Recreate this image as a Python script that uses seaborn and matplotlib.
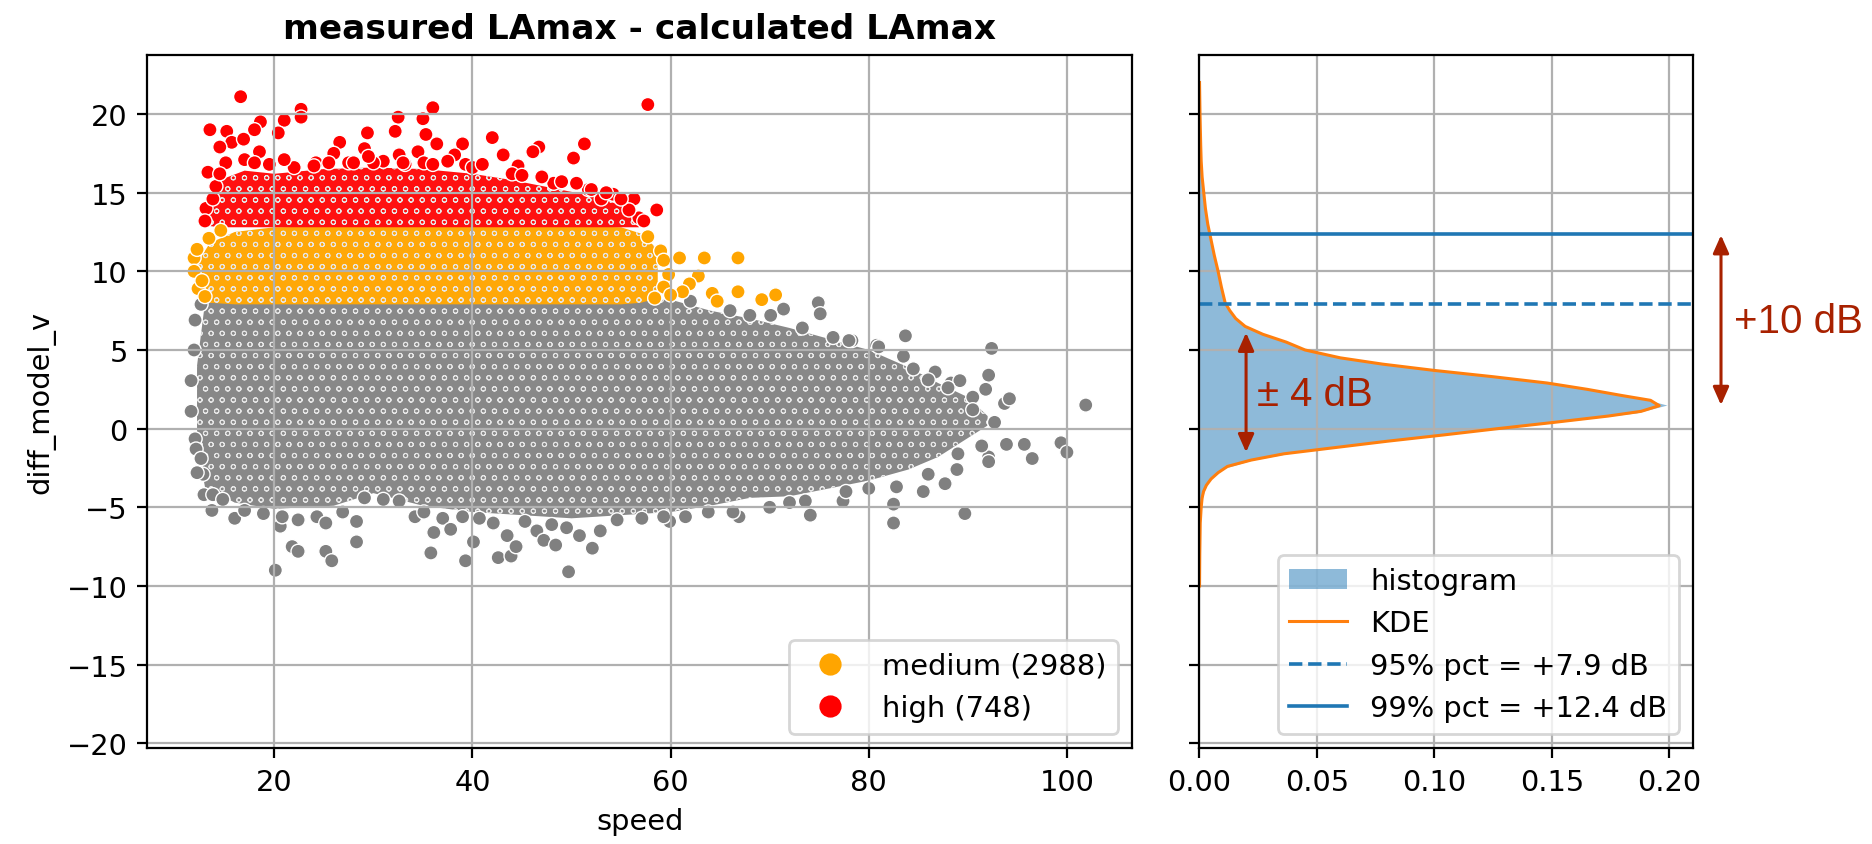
import matplotlib
matplotlib.use("Agg")
import matplotlib.pyplot as plt
import matplotlib.transforms as mtransforms
from matplotlib.lines import Line2D
from matplotlib.patches import Patch
import pandas as pd
import seaborn as sns

# ---------------- data ----------------
# dense cores of the point cloud (speed knots, lower / upper diff)
gray_env_speed = [12.2, 13.0, 16, 20, 26, 30, 35, 40, 45, 50, 55, 60, 64, 68, 72, 76, 80, 84, 87, 90, 92]
gray_env_top = [4.0, 8.0, 8.1, 8.1, 8.1, 8.1, 8.1, 8.1, 8.1, 8.1, 8.1, 8.2, 7.5, 7.0, 6.4, 5.7, 5.0, 3.9, 2.9, 2.0, 0.8]
gray_env_bottom = [-1.0, -3.7, -4.7, -5.1, -4.9, -4.1, -4.9, -5.3, -5.5, -5.7, -5.5, -5.3, -4.9, -4.4, -4.3, -3.8, -3.3, -2.6, -1.8, -0.6, 0.2]

orange_env_speed = [12.3, 13.5, 16, 20, 30, 40, 50, 55, 57, 58.7]
orange_env_top = [10.6, 11.8, 12.5, 12.8, 12.9, 12.9, 12.9, 12.8, 12.4, 11.4]
orange_env_bottom = [8.9, 8.0, 7.9, 7.9, 7.9, 7.9, 7.9, 7.9, 8.0, 8.3]

red_env_speed = [13.2, 14.5, 17, 20, 25, 30, 35, 40, 44, 48, 52, 55, 56.8]
red_env_top = [14.2, 15.8, 16.4, 16.2, 16.5, 16.6, 16.5, 16.2, 15.8, 15.3, 14.8, 14.2, 13.2]
red_env_bottom = [12.9, 12.8, 12.8, 12.8, 12.8, 12.8, 12.8, 12.8, 12.8, 12.8, 12.8, 12.8, 12.8]

# individual points at the edges of the cloud (speed, diff_model_v)
red_points = [
    (16.6, 21.1), (57.7, 20.6), (22.7, 20.3), (22.7, 19.8), (36.0, 20.4), (32.5, 19.8),
    (35.0, 19.7), (13.5, 19.0), (15.2, 18.9), (18.6, 19.5), (21.0, 19.6), (18.0, 19.0),
    (32.2, 18.9), (29.4, 18.8), (35.3, 18.7), (42.0, 18.5), (15.7, 18.2), (16.9, 18.4),
    (20.4, 18.8), (26.6, 18.2), (36.4, 18.1), (39.0, 18.1), (51.3, 18.1), (46.7, 17.9),
    (29.1, 17.8), (34.5, 17.6), (14.5, 17.9), (18.5, 17.6), (26.0, 17.5), (38.2, 17.4),
    (43.1, 17.4), (46.1, 17.6), (50.2, 17.2), (32.6, 17.4), (24.2, 16.9), (44.6, 16.7),
    (13.3, 16.3), (15.1, 16.9), (17.0, 17.1), (27.5, 16.9), (35.1, 16.9), (33.2, 16.8),
    (39.3, 16.8), (22.0, 16.6), (44.0, 16.2), (54.2, 14.9), (56.3, 14.6), (58.6, 13.9),
    (13.1, 14.0), (56.8, 13.4), (48.2, 15.6), (51.7, 15.2), (53.0, 14.6), (55.8, 13.9),
    (13.8, 14.6), (13.0, 13.2), (14.1, 15.4), (14.5, 16.2),
    (19.5, 16.8), (24.0, 16.7), (28.0, 16.9), (31.0, 17.0), (36.0, 16.8), (40.0, 16.6),
    (45.0, 16.1), (49.0, 15.7), (52.0, 15.2), (55.0, 14.6), (57.3, 13.2), (30.0, 16.9),
    (18.0, 16.9), (21.0, 17.1), (25.5, 16.9), (29.5, 17.3), (33.0, 16.9), (37.5, 17.0),
    (41.0, 16.8), (47.0, 16.0), (50.5, 15.6), (53.5, 15.0),
]
orange_points = [
    (11.9, 10.85), (12.2, 11.4), (12.3, 8.9), (11.9, 10.0), (12.7, 9.4), (13.0, 8.4),
    (13.4, 12.1), (14.6, 12.6), (59.0, 11.3), (57.7, 12.2), (59.3, 10.7), (59.8, 9.8),
    (59.3, 9.0), (60.9, 10.85), (63.4, 10.85), (66.8, 10.85), (62.8, 9.7), (61.9, 9.2),
    (61.2, 8.7), (64.2, 8.6), (64.7, 8.1), (66.8, 8.7), (69.2, 8.2), (70.6, 8.5),
    (58.4, 8.3), (60.0, 8.5),
]
gray_points = [
    (74.9, 8.0), (75.1, 7.3), (71.4, 7.6), (70.1, 7.2), (73.3, 6.4), (76.4, 5.8),
    (78.3, 5.6), (80.8, 5.3), (83.7, 5.9), (83.5, 4.6), (84.5, 3.8), (86.7, 3.6),
    (88.3, 2.9), (89.2, 3.05), (92.1, 3.4), (92.4, 5.1), (90.5, 2.0), (91.8, 2.5),
    (93.7, 1.6), (94.2, 1.9), (92.7, 0.4), (101.9, 1.5), (99.4, -0.9),
    (100.0, -1.5), (96.5, -1.9), (95.7, -1.0), (93.9, -1.0), (92.1, -1.8), (92.1, -2.1),
    (91.4, -1.1), (89.0, -1.6), (88.9, -2.6), (87.7, -3.5), (85.5, -4.0), (82.8, -3.7),
    (82.5, -4.8), (82.5, -6.0), (89.7, -5.4), (77.4, -4.6), (77.7, -4.0), (74.1, -5.5),
    (73.6, -4.6), (72.0, -4.7), (66.9, -5.6), (66.3, -5.3), (63.8, -5.3), (59.9, -5.9),
    (59.3, -5.6), (12.6, 7.9), (12.0, 6.9), (11.6, 3.05), (11.6, 1.1), (12.0, -0.65),
    (12.1, -1.3), (12.6, -1.9), (12.8, -2.9), (12.9, -4.2), (13.8, -4.2), (14.8, -4.5),
    (13.7, -5.2), (16.0, -5.7), (17.0, -5.2), (18.9, -5.4), (20.6, -6.2), (20.8, -5.6),
    (22.4, -5.8), (24.3, -5.6), (25.2, -6.0), (26.9, -5.3), (28.3, -5.9), (29.1, -4.4),
    (31.0, -4.5), (32.6, -4.6), (34.2, -5.6), (35.1, -5.3), (37.0, -5.7), (37.8, -6.4),
    (39.0, -5.6), (40.7, -5.7), (42.1, -6.0), (43.5, -6.8), (45.3, -5.9), (46.5, -6.5),
    (48.0, -6.1), (49.5, -6.3), (50.8, -6.8), (52.9, -6.5), (54.6, -5.8), (57.1, -5.7),
    (20.1, -9.0), (21.8, -7.5), (22.4, -7.8), (25.2, -7.8), (25.8, -8.4), (28.3, -7.2),
    (35.8, -7.9), (36.1, -6.6), (39.3, -8.4), (40.1, -7.2), (42.6, -8.2), (43.9, -8.1),
    (44.4, -7.5), (47.2, -7.1), (48.4, -7.4), (49.7, -9.1), (52.1, -7.6),
    (62.0, 8.1), (66.0, 7.5), (68.0, 7.2), (78.0, 5.6), (81.0, 5.2), (86.0, 3.1),
    (88.0, 2.6), (90.5, 1.2), (86.0, -2.9), (80.0, -3.8), (70.0, -5.0), (61.5, -5.6),
    (11.9, 5.0), (12.2, -2.8),
]
level_names = ["low", "medium", "high"]
level_counts = {"medium": 2988, "high": 748}
level_colors = {"low": "grey", "medium": "orange", "high": "red"}
core_colors = {"low": "#888888", "medium": "#ffa808", "high": "#ff1010"}

# distribution of diff_model_v (right panel): fine-binned histogram, bin centres
hist_y = [-6.0, -5.5, -5.0, -4.5, -4.0, -3.5, -3.0, -2.5, -2.0, -1.5, -1.0, -0.5, 0.0, 0.5,
          1.0, 1.5, 2.0, 2.5, 3.0, 3.5, 4.0, 4.5, 5.0, 5.5, 6.0, 6.5, 7.0, 7.5, 8.0, 8.5, 9.0,
          9.5, 10.0, 10.5, 11.0, 11.5, 12.0, 12.5, 13.0, 13.5, 14.0, 14.5, 15.0, 15.5, 16.0,
          16.5, 17.0]
hist_density = [0.0004, 0.0006, 0.0009, 0.0013, 0.0020, 0.0035, 0.0060, 0.0110, 0.0225, 0.0410,
                0.0690, 0.0980, 0.1280, 0.1580, 0.1860, 0.1990, 0.1860, 0.1670, 0.1440, 0.1130,
                0.0840, 0.0620, 0.0460, 0.0375, 0.0275, 0.0195, 0.0155, 0.0133, 0.0110, 0.0102,
                0.0094, 0.0087, 0.0080, 0.0072, 0.0064, 0.0057, 0.0050, 0.0042, 0.0036, 0.0030,
                0.0026, 0.0022, 0.0019, 0.0015, 0.0012, 0.0009, 0.0006]
kde_y = [-10, -8, -6, -5, -4.4, -4, -3.6, -3.2, -2.8, -2.4, -2.0, -1.6, -1.2, -0.8, -0.4, 0.0,
         0.4, 0.8, 1.1, 1.46, 1.8, 2.1, 2.5, 2.9, 3.3, 3.7, 4.1, 4.5, 5.0, 5.5, 6.0, 6.5, 7.0,
         7.5, 8.0, 9.0, 10.0, 11.0, 12.0, 13.0, 14.0, 15.0, 16.0, 17.0, 18.0, 20.0, 22.0]
kde_density = [0.0001, 0.0002, 0.0004, 0.0008, 0.0012, 0.0018, 0.0030, 0.0050, 0.0080, 0.0120,
               0.0220, 0.0360, 0.0580, 0.0800, 0.1040, 0.1270, 0.1510, 0.1740, 0.1880, 0.1957,
               0.1920, 0.1800, 0.1650, 0.1480, 0.1250, 0.1000, 0.0780, 0.0600, 0.0450, 0.0370,
               0.0270, 0.0195, 0.0155, 0.0130, 0.0110, 0.0094, 0.0080, 0.0064, 0.0050, 0.0036,
               0.0026, 0.0019, 0.0012, 0.0008, 0.0006, 0.0003, 0.0001]
pct95 = 7.9
pct99 = 12.4

# ---------------- figure ----------------
plt.rcParams["font.size"] = 10.4
plt.rcParams["hatch.linewidth"] = 0.35
W, H = 1872, 845
fig = plt.figure(figsize=(W / 200, H / 200), dpi=200)
ax1 = fig.add_axes([147.3 / W, 1 - 749.3 / H, (1132.3 - 147.3) / W, (749.3 - 55.7) / H])
ax2 = fig.add_axes([1199.3 / W, 1 - 749.3 / H, (1693.3 - 1199.3) / W, (749.3 - 55.7) / H], sharey=ax1)

# dense cores (overlapping markers drawn as filled regions with a white mesh)
for spd, lo, hi, key in [(gray_env_speed, gray_env_bottom, gray_env_top, "low"),
                         (orange_env_speed, orange_env_bottom, orange_env_top, "medium"),
                         (red_env_speed, red_env_bottom, red_env_top, "high")]:
    ax1.fill_between(spd, lo, hi, facecolor=core_colors[key], edgecolor="#e6e6e6",
                     hatch="ooo", lw=0)

rows = ([(s, d, "low") for s, d in gray_points]
        + [(s, d, "medium") for s, d in orange_points]
        + [(s, d, "high") for s, d in red_points])
df = pd.DataFrame(rows, columns=["speed", "diff_model_v", "level"])
sns.scatterplot(data=df, x="speed", y="diff_model_v", hue="level", hue_order=level_names,
                palette=level_colors, s=26, edgecolor="white", linewidth=0.5,
                legend=False, ax=ax1)

ax1.set_xlim(7.18, 106.6)
ax1.set_ylim(-20.32, 23.77)
ax1.set_xticks([20, 40, 60, 80, 100])
ax1.set_yticks([-20, -15, -10, -5, 0, 5, 10, 15, 20])
ax1.grid(True)
ax1.set_xlabel("speed")
ax1.set_ylabel("diff_model_v")
ax1.set_title("measured LAmax - calculated LAmax", fontweight="bold", fontsize=12.4)
leg_handles = [Line2D([], [], marker="o", ls="", color=level_colors[k], markersize=7,
                      label=f"{k} ({level_counts[k]})") for k in ["medium", "high"]]
ax1.legend(handles=leg_handles, loc="lower right")

# right panel
ax2.fill_betweenx(hist_y, 0, hist_density, color="#1f77b4", alpha=0.5, lw=0)
sns.lineplot(x=kde_density, y=kde_y, orient="y", sort=True, color="#ff7f0e", lw=1.1, ax=ax2)
ax2.axhline(pct95, color="#1f77b4", ls="--", lw=1.3)
ax2.axhline(pct99, color="#1f77b4", ls="-", lw=1.3)
ax2.set_xlim(0, 0.2102)
ax2.set_xticks([0.0, 0.05, 0.10, 0.15, 0.20])
ax2.set_xticklabels(["0.00", "0.05", "0.10", "0.15", "0.20"])
ax2.tick_params(labelleft=False)
ax2.grid(True)
ax2.set_xlabel("")
ax2.set_ylabel("")
hist_handles = [
    Patch(facecolor="#1f77b4", alpha=0.5, label="histogram"),
    Line2D([], [], color="#ff7f0e", lw=1.1, label="KDE"),
    Line2D([], [], color="#1f77b4", ls="--", lw=1.3, label=f"95% pct = +{pct95} dB"),
    Line2D([], [], color="#1f77b4", ls="-", lw=1.3, label=f"99% pct = +{pct99} dB"),
]
ax2.legend(handles=hist_handles, loc="lower right")

# annotations
ann_color = "#a82100"
arrow_kw = dict(arrowstyle="<|-|>,head_length=0.45,head_width=0.2", color=ann_color, lw=1.1,
                mutation_scale=12, shrinkA=0, shrinkB=0)
ax2.annotate("", xy=(0.0199, 6.1), xytext=(0.0199, -1.5), arrowprops=arrow_kw)
ax2.text(0.0246, 2.2, "± 4 dB", color=ann_color, fontsize=14.5, family="Liberation Sans",
         ha="left", va="center")
trans = mtransforms.blended_transform_factory(fig.transFigure, ax2.transData)
ax2.annotate("", xy=(1721 / W, 12.3), xytext=(1721 / W, 1.5), xycoords=trans, textcoords=trans,
             arrowprops=arrow_kw, annotation_clip=False)
ax2.text(1734 / W, 6.85, "+10 dB", color=ann_color, fontsize=14.5, family="Liberation Sans",
         ha="left", va="center", transform=trans)

fig.savefig("out.png", dpi=200, facecolor="white")
